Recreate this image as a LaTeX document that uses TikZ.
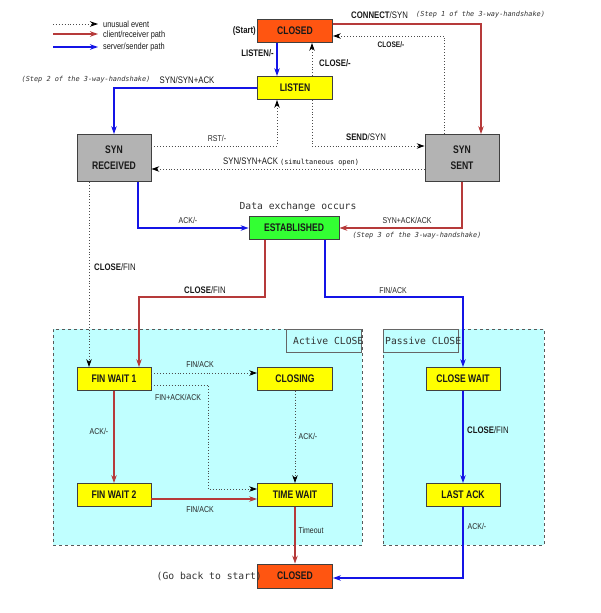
\documentclass[tikz,border=0pt]{standalone}
\usepackage{fontspec}
\setmainfont{Liberation Sans}
\newfontfamily\cnd{Liberation Sans}[FakeStretch=0.82]
\newfontfamily\cndb{Liberation Sans}[FakeStretch=0.78]
\newfontfamily\mon{DejaVu Sans Mono}
\usetikzlibrary{arrows.meta,calc}
\definecolor{cred}{RGB}{182,58,58}
\definecolor{cblue}{RGB}{20,20,230}
\definecolor{corange}{RGB}{255,85,17}
\definecolor{cyellow}{RGB}{255,255,0}
\definecolor{cgreen}{RGB}{51,255,51}
\definecolor{cgray}{RGB}{179,179,179}
\definecolor{ccyan}{RGB}{192,255,255}
\begin{document}
\begin{tikzpicture}[x=1pt,y=-1pt,
  state/.style={draw=black!75, line width=0.8pt, minimum width=74pt, minimum height=23pt,
    inner sep=0pt, align=center, text=black!90,
    font=\cndb\bfseries\fontsize{11}{16}\selectfont},
  ystate/.style={state, fill=cyellow},
  arr/.style={line width=1.2pt, -{Stealth[length=8pt,width=5.5pt]}},
  redarr/.style={arr, draw=cred},
  bluearr/.style={arr, draw=cblue, line width=1.3pt},
  dotarr/.style={line width=0.9pt, dotted, draw=black!70, -{Stealth[length=8pt,width=5.5pt,color=black]}},
  lab/.style={font=\cnd\fontsize{8.5}{9}\selectfont, text=black!85, inner sep=0pt},
  labL/.style={font=\cnd\fontsize{9.5}{10}\selectfont, text=black!90, inner sep=0pt},
  labS/.style={font=\cnd\bfseries\fontsize{8}{9}\selectfont, text=black!90, inner sep=0pt},
  mono/.style={font=\mon\fontsize{9.7}{10}\selectfont, text=black!80, inner sep=0pt},
  stepnote/.style={font=\mon\itshape\fontsize{6.9}{8}\selectfont, text=black!80, inner sep=0pt},
  region/.style={draw=black!65, dashed, line width=0.9pt, fill=ccyan, inner sep=0pt},
  regtag/.style={draw=black!60, line width=0.8pt, inner sep=0pt}
]
\fill[white] (0,0) rectangle (600,613);
\useasboundingbox (0,0) rectangle (600,613);

% regions
\node[region, minimum width=309pt, minimum height=216pt] (actreg) at (207.5,437) {};
\node[region, minimum width=161pt, minimum height=216pt] (pasreg) at (463.5,437) {};
\node[regtag, minimum width=75pt, minimum height=23pt] (acttag) at (323.5,340.5) {};
\node[regtag, minimum width=75pt, minimum height=23pt] (pastag) at (420.5,340.5) {};
\node[mono, anchor=west] (acttxt) at (293,340.5) {Active CLOSE};
\node[mono, anchor=west] (pastxt) at (385,340.5) {Passive CLOSE};

% states
\node[state, fill=corange, minimum width=75pt] (closed1) at (295,31) {CLOSED};
\node[ystate, minimum width=75pt] (listen) at (295,88) {LISTEN};
\node[state, fill=cgray, minimum height=47pt] (synrcvd) at (114,158) {SYN\\RECEIVED};
\node[state, fill=cgray, minimum height=47pt] (synsent) at (462,158) {SYN\\SENT};
\node[state, fill=cgreen, minimum width=90pt] (estab) at (294,228) {ESTABLISHED};
\node[ystate] (finw1) at (114,379) {FIN WAIT 1};
\node[ystate, minimum width=75pt] (closing) at (295,379) {CLOSING};
\node[ystate] (closewait) at (463,379) {CLOSE WAIT};
\node[ystate] (finw2) at (114,495) {FIN WAIT 2};
\node[ystate, minimum width=75pt] (timewait) at (295,495) {TIME WAIT};
\node[ystate] (lastack) at (463,495) {LAST ACK};
\node[state, fill=corange, minimum width=75pt, minimum height=24pt] (closed2) at (295,576) {CLOSED};

% bend coordinates
\coordinate (b2) at (139,297);
\coordinate (b3) at (463,297);
\coordinate (b4) at (208,489);

% legend
\coordinate (lg1s) at (53,24); \coordinate (lg1e) at (98,24);
\coordinate (lg2s) at (53,34); \coordinate (lg2e) at (98,34);
\coordinate (lg3s) at (53,47); \coordinate (lg3e) at (98,47);
\draw[dotarr] (lg1s) -- (lg1e);
\draw[redarr] (lg2s) -- (lg2e);
\draw[bluearr] (lg3s) -- (lg3e);
\node[labL, anchor=west, font=\cnd\fontsize{9}{10}\selectfont] (lg1t) at (103,24) {unusual event};
\node[labL, anchor=west, font=\cnd\fontsize{9}{10}\selectfont] (lg2t) at (103,35) {client/receiver path};
\node[labL, anchor=west, font=\cnd\fontsize{9}{10}\selectfont] (lg3t) at (103,47) {server/sender path};

% connectors
\draw[redarr] ([yshift=7pt]closed1.east) -| ([xshift=19pt]synsent.north);
\draw[dotarr] ([xshift=-18pt]synsent.north) |- ([yshift=-5pt]closed1.east);
\draw[bluearr] ([xshift=-18pt]closed1.south) -- ([xshift=-18pt]listen.north);
\draw[dotarr] ([xshift=17pt]listen.north) -- ([xshift=17pt]closed1.south);
\draw[bluearr] (listen.west) -| (synrcvd.north);
\draw[dotarr] ([yshift=12pt]synrcvd.east) -| ([xshift=-18pt]listen.south);
\draw[dotarr] ([xshift=17pt]listen.south) |- ([yshift=12pt]synsent.west);
\draw[dotarr] ([yshift=-11pt]synsent.west) -- ([yshift=-11pt]synrcvd.east);
\draw[bluearr] ([xshift=24pt]synrcvd.south) |- (estab.west);
\draw[redarr] (synsent.south) |- (estab.east);
\draw[dotarr] ([xshift=-25pt]synrcvd.south) -- ([xshift=-25pt]finw1.north);
\draw[redarr] ([xshift=-29pt]estab.south) |- (b2) -- ([xshift=25pt]finw1.north);
\draw[bluearr] ([xshift=31pt]estab.south) |- (b3) -- (closewait.north);
\draw[dotarr] ([yshift=6pt]finw1.east) -- ([yshift=6pt]closing.west);
\draw[dotarr] ([yshift=-6pt]finw1.east) -| (b4) -- ([yshift=6pt]timewait.west);
\draw[dotarr] (closing.south) -- (timewait.north);
\draw[redarr] (finw1.south) -- (finw2.north);
\draw[redarr] ([yshift=-4pt]finw2.east) -- ([yshift=-4pt]timewait.west);
\draw[redarr] (timewait.south) -- (closed2.north);
\draw[bluearr] (closewait.south) -- (lastack.north);
\draw[bluearr] (lastack.south) |- ([yshift=-2pt]closed2.east);

% labels
\node[labL, anchor=west] (l1) at (351,15) {\textbf{CONNECT}/SYN};
\node[stepnote, anchor=west] (l1s) at (416,15) {(Step 1 of the 3-way-handshake)};
\node[labS] (l2) at (391,45) {CLOSE/-};
\node[labL, anchor=east] (l3) at (274,53) {\textbf{LISTEN/-}};
\node[labL, anchor=west] (l4) at (319,63) {\textbf{CLOSE/-}};
\node[labL] (l5) at (187,80) {SYN/SYN+ACK};
\node[stepnote] (l5s) at (86,80) {(Step 2 of the 3-way-handshake)};
\node[lab] (l6) at (217,138) {RST/-};
\node[labL] (l7) at (366,137) {\textbf{SEND}/SYN};
\node[labL, anchor=west] (l8) at (223,162) {SYN/SYN+ACK \mon\fontsize{6.9}{8}\selectfont(simultaneous open)};
\node[lab] (l9) at (188,220) {ACK/-};
\node[lab] (l10) at (407,220) {SYN+ACK/ACK};
\node[stepnote] (l10s) at (417,236) {(Step 3 of the 3-way-handshake)};
\node[mono] (l11) at (298,207) {Data exchange occurs};
\node[labL] (l12) at (115,267) {\textbf{CLOSE}/FIN};
\node[labL] (l13) at (205,290) {\textbf{CLOSE}/FIN};
\node[lab] (l14) at (393,290) {FIN/ACK};
\node[lab] (l15) at (200,364) {FIN/ACK};
\node[lab] (l16) at (178,397) {FIN+ACK/ACK};
\node[lab] (l17) at (99,431) {ACK/-};
\node[lab] (l18) at (308,436) {ACK/-};
\node[labL] (l19) at (488,430) {\textbf{CLOSE}/FIN};
\node[lab] (l20) at (200,509) {FIN/ACK};
\node[lab] (l21) at (311,530) {Timeout};
\node[lab] (l22) at (477,526) {ACK/-};
\node[labL, anchor=east] (l23) at (256,31) {\textbf{(Start)}};
\node[mono, anchor=east] (l24) at (262,576) {(Go back to start)};
\end{tikzpicture}
\end{document}
